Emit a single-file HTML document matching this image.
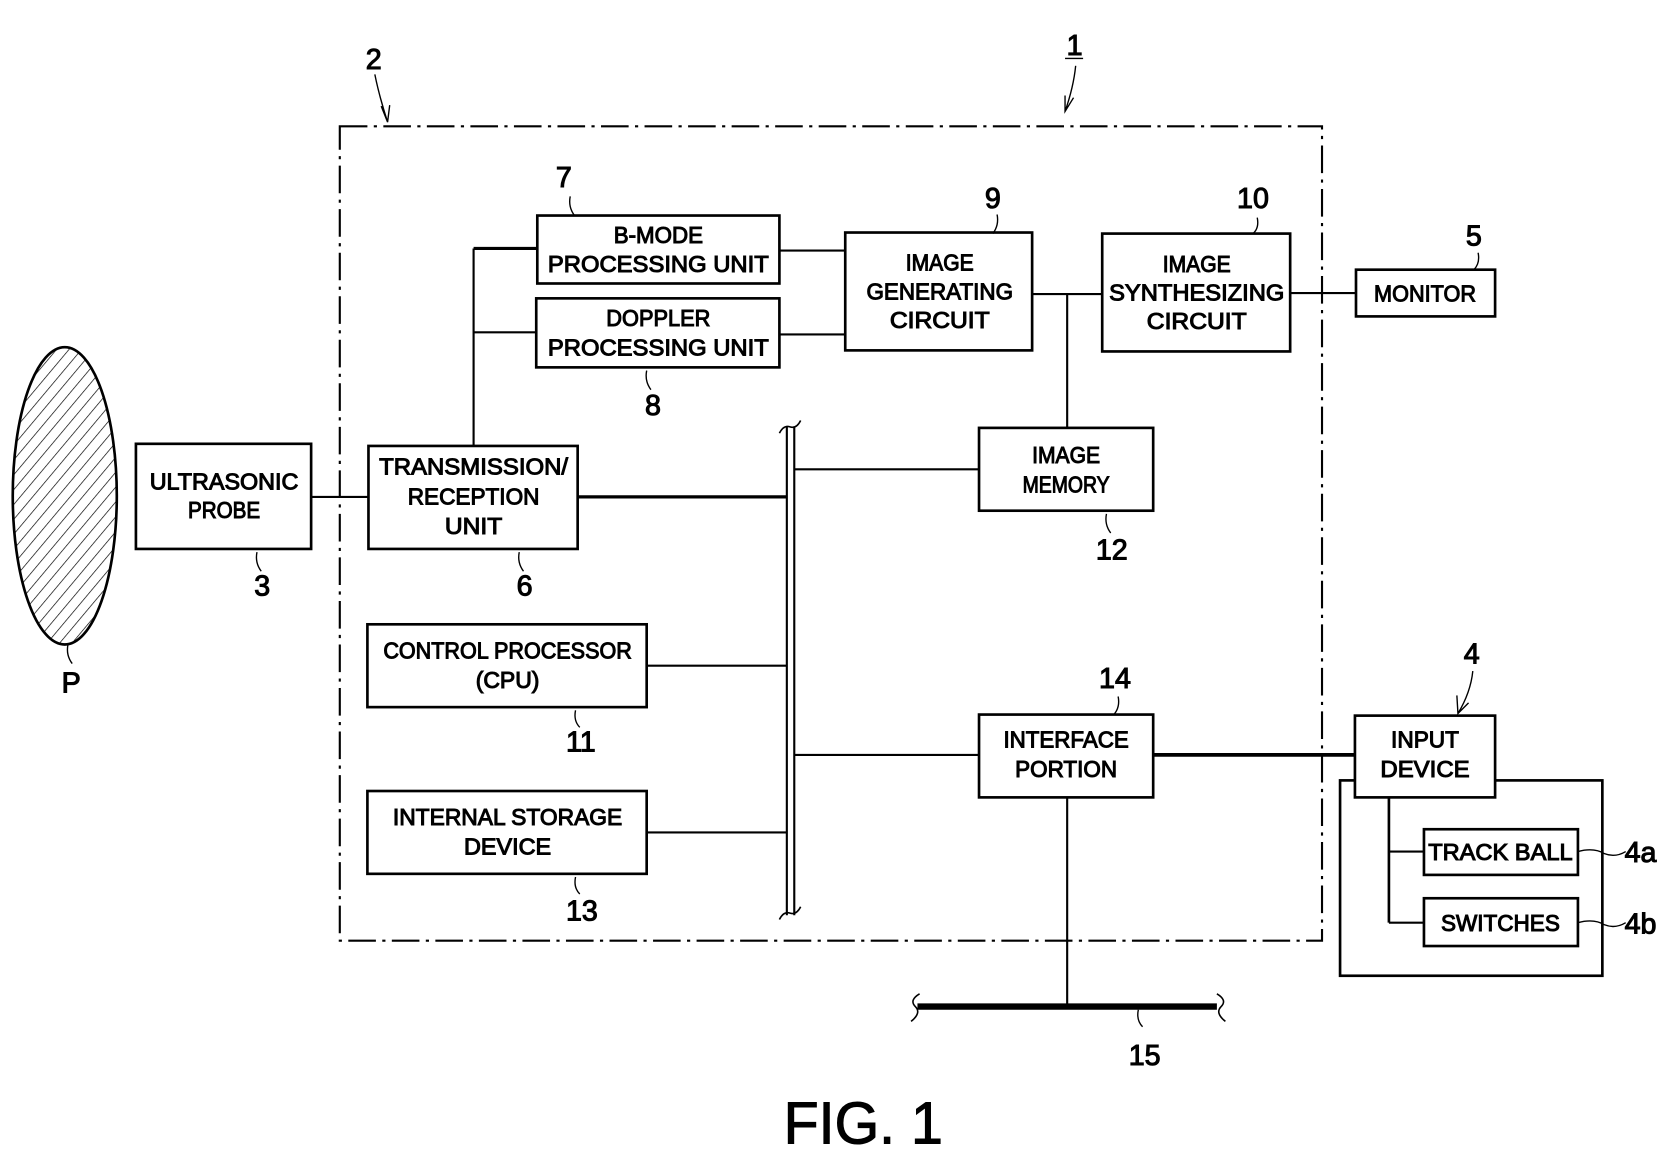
<!DOCTYPE html>
<html><head><meta charset="utf-8"><style>
html,body{margin:0;padding:0;background:#fff;width:1665px;height:1169px;overflow:hidden}
svg{display:block}
text{font-family:"Liberation Sans",sans-serif;fill:#000;text-anchor:middle}
.b{font-size:22px}
.n{font-size:27px}
</style></head><body>
<svg width="1665" height="1169" viewBox="0 0 1568 1101" preserveAspectRatio="none" xmlns="http://www.w3.org/2000/svg">
<defs>
<pattern id="h" patternUnits="userSpaceOnUse" width="9" height="9" patternTransform="rotate(40)">
<line x1="0" y1="0" x2="0" y2="9" stroke="#000" stroke-width="1.3"/>
</pattern>
</defs>
<g fill="none" stroke="#000">
<ellipse cx="61" cy="467" rx="49" ry="140" fill="url(#h)" stroke-width="2.5"/>
<rect x="320" y="119" width="925" height="767" stroke-width="2" stroke-dasharray="26,6,3,6"/>
<g stroke-width="2.5">
<rect x="128" y="418" width="165" height="99"/>
<rect x="347" y="420" width="197" height="97"/>
<rect x="506" y="203" width="228" height="64"/>
<rect x="505" y="281" width="229" height="65"/>
<rect x="796" y="219" width="176" height="111"/>
<rect x="1038" y="220" width="177" height="111"/>
<rect x="1277" y="254" width="131" height="44"/>
<rect x="922" y="403" width="164" height="78"/>
<rect x="346" y="588" width="263" height="78"/>
<rect x="346" y="745" width="263" height="78"/>
<rect x="922" y="673" width="164" height="78"/>
<rect x="1262" y="735" width="247" height="184"/>
<rect x="1276" y="674" width="132" height="77" fill="#fff"/>
<rect x="1341" y="781" width="145" height="43"/>
<rect x="1341" y="846" width="145" height="45"/>
</g>
<g stroke-width="2">
<line x1="293" y1="468" x2="347" y2="468"/>
<line x1="446" y1="420" x2="446" y2="234"/>
<line x1="446" y1="234" x2="506" y2="234" stroke-width="3"/>
<line x1="446" y1="313" x2="505" y2="313"/>
<line x1="734" y1="236" x2="796" y2="236"/>
<line x1="734" y1="315" x2="796" y2="315"/>
<line x1="972" y1="277" x2="1038" y2="277"/>
<line x1="1005" y1="277" x2="1005" y2="403"/>
<line x1="1215" y1="276" x2="1277" y2="276"/>
<line x1="544" y1="468" x2="741" y2="468" stroke-width="3"/>
<line x1="748" y1="442" x2="922" y2="442"/>
<line x1="609" y1="627" x2="741" y2="627"/>
<line x1="609" y1="784" x2="741" y2="784"/>
<line x1="748" y1="711" x2="922" y2="711"/>
<line x1="1086" y1="711" x2="1276" y2="711" stroke-width="3.5"/>
<line x1="1005" y1="751" x2="1005" y2="948"/>
<line x1="1308" y1="751" x2="1308" y2="869" stroke-width="2.5"/>
<line x1="1308" y1="802" x2="1341" y2="802"/>
<line x1="1308" y1="869" x2="1341" y2="869"/>
<line x1="741" y1="402" x2="741" y2="862"/>
<line x1="748" y1="402" x2="748" y2="862"/>
<path d="M734,408 q4,-8 10,-6 q6,2 10,-6" stroke-width="1.5"/>
<path d="M734,866 q4,-8 10,-6 q6,2 10,-6" stroke-width="1.5"/>
<line x1="864" y1="948" x2="1146" y2="948" stroke-width="6"/>
<path d="M866,936 q-10,6 -4,12 q6,6 -4,14" stroke-width="1.5"/>
<path d="M1146,936 q10,6 4,12 q-6,6 4,14" stroke-width="1.5"/>
<g stroke-width="1.3">
<path d="M242,520 q-2,10 4,18"/>
<path d="M489,520 q-2,10 4,18"/>
<path d="M537,185 q-2,10 4,18"/>
<path d="M609,349 q-2,10 4,18"/>
<path d="M939,202 q2,10 -4,18"/>
<path d="M1184,205 q2,10 -4,15"/>
<path d="M1392,238 q2,10 -4,16"/>
<path d="M1042,484 q-2,10 4,18"/>
<path d="M542,669 q-2,10 4,16"/>
<path d="M542,826 q-2,10 4,16"/>
<path d="M1053,656 q2,10 -4,17"/>
<path d="M1072,951 q-2,10 4,16"/>
<path d="M64,607 q-2,10 4,18"/>
<path d="M1486,802 q15,-4 25,2 q10,4 20,-2"/>
<path d="M1486,869 q15,-4 25,2 q10,4 20,-2"/>
<path d="M353,70 q4,20 12,45 M359,100 l6,15 l2,-16"/>
<path d="M1013,62 q-2,20 -10,43 M1003,90 l0,15 l8,-13"/>
<path d="M1387,632 q-2,20 -14,40 M1372,655 l1,17 l10,-10"/>
<line x1="1003" y1="55" x2="1020" y2="55"/>
</g>
</g>
<g class="b">
<text x="211" y="461" textLength="140" lengthAdjust="spacingAndGlyphs">ULTRASONIC</text>
<text x="211" y="488" textLength="68" lengthAdjust="spacingAndGlyphs">PROBE</text>
<text x="446" y="447" textLength="178" lengthAdjust="spacingAndGlyphs">TRANSMISSION/</text>
<text x="446" y="475" textLength="124" lengthAdjust="spacingAndGlyphs">RECEPTION</text>
<text x="446" y="503" textLength="54" lengthAdjust="spacingAndGlyphs">UNIT</text>
<text x="620" y="229" textLength="84" lengthAdjust="spacingAndGlyphs">B-MODE</text>
<text x="620" y="256" textLength="208" lengthAdjust="spacingAndGlyphs">PROCESSING UNIT</text>
<text x="620" y="307" textLength="98" lengthAdjust="spacingAndGlyphs">DOPPLER</text>
<text x="620" y="335" textLength="208" lengthAdjust="spacingAndGlyphs">PROCESSING UNIT</text>
<text x="885" y="255" textLength="64" lengthAdjust="spacingAndGlyphs">IMAGE</text>
<text x="885" y="282" textLength="138" lengthAdjust="spacingAndGlyphs">GENERATING</text>
<text x="885" y="309" textLength="94" lengthAdjust="spacingAndGlyphs">CIRCUIT</text>
<text x="1127" y="256" textLength="64" lengthAdjust="spacingAndGlyphs">IMAGE</text>
<text x="1127" y="283" textLength="165" lengthAdjust="spacingAndGlyphs">SYNTHESIZING</text>
<text x="1127" y="310" textLength="94" lengthAdjust="spacingAndGlyphs">CIRCUIT</text>
<text x="1342" y="284" textLength="96" lengthAdjust="spacingAndGlyphs">MONITOR</text>
<text x="1004" y="436" textLength="64" lengthAdjust="spacingAndGlyphs">IMAGE</text>
<text x="1004" y="464" textLength="82" lengthAdjust="spacingAndGlyphs">MEMORY</text>
<text x="478" y="620" textLength="234" lengthAdjust="spacingAndGlyphs">CONTROL PROCESSOR</text>
<text x="478" y="648" textLength="60" lengthAdjust="spacingAndGlyphs">(CPU)</text>
<text x="478" y="777" textLength="216" lengthAdjust="spacingAndGlyphs">INTERNAL STORAGE</text>
<text x="478" y="805" textLength="82" lengthAdjust="spacingAndGlyphs">DEVICE</text>
<text x="1004" y="704" textLength="118" lengthAdjust="spacingAndGlyphs">INTERFACE</text>
<text x="1004" y="732" textLength="96" lengthAdjust="spacingAndGlyphs">PORTION</text>
<text x="1342" y="704" textLength="64" lengthAdjust="spacingAndGlyphs">INPUT</text>
<text x="1342" y="732" textLength="84" lengthAdjust="spacingAndGlyphs">DEVICE</text>
<text x="1413" y="810" textLength="136" lengthAdjust="spacingAndGlyphs">TRACK BALL</text>
<text x="1413" y="877" textLength="112" lengthAdjust="spacingAndGlyphs">SWITCHES</text>
</g>
<g class="n">
<text x="67" y="652">P</text>
<text x="247" y="561">3</text>
<text x="494" y="561">6</text>
<text x="531" y="176">7</text>
<text x="615" y="391">8</text>
<text x="935" y="196">9</text>
<text x="1180" y="196">10</text>
<text x="1388" y="231">5</text>
<text x="1047" y="527">12</text>
<text x="547" y="708">11</text>
<text x="548" y="867">13</text>
<text x="1050" y="648">14</text>
<text x="1078" y="1003">15</text>
<text x="352" y="65">2</text>
<text x="1012" y="52">1</text>
<text x="1386" y="625">4</text>
<text x="1545" y="812">4a</text>
<text x="1545" y="879">4b</text>
</g>
<text x="813" y="1077" style="font-size:56px" textLength="150" lengthAdjust="spacingAndGlyphs">FIG. 1</text>
</svg>
</body></html>
